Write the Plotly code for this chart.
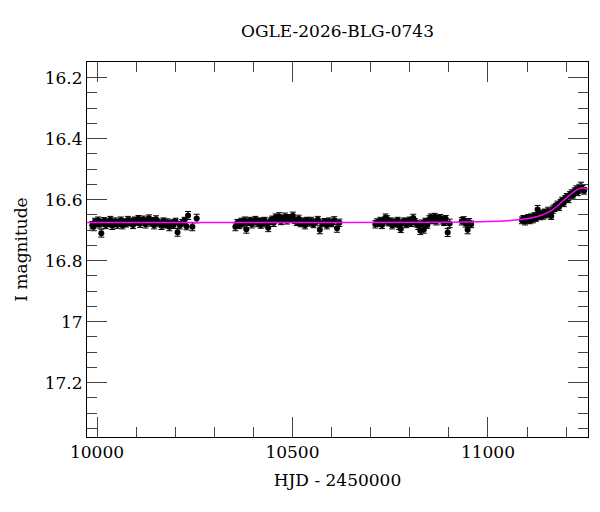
import plotly.graph_objects as go

# photometry, season 1
hjd1 = [9988, 9991, 9995, 9999, 10003, 10006, 10011, 10014, 10018, 10022,
        10026, 10030, 10034, 10039, 10043, 10047, 10052, 10056, 10061, 10065,
        10070, 10074, 10079, 10083, 10088, 10092, 10097, 10101, 10106, 10110,
        10115, 10119, 10124, 10128, 10133, 10137, 10142, 10146, 10151, 10155,
        10160, 10165, 10170, 10175, 10180, 10185, 10191, 10196, 10201, 10206,
        10212, 10218, 10224, 10229, 10233, 10244, 10255]
mag1 = [16.684, 16.689, 16.672, 16.678, 16.668, 16.681, 16.71, 16.676, 16.669, 16.683,
        16.674, 16.679, 16.666, 16.686, 16.677, 16.671, 16.682, 16.675, 16.668, 16.684,
        16.673, 16.679, 16.667, 16.676, 16.671, 16.683, 16.668, 16.674, 16.663, 16.679,
        16.67, 16.665, 16.681, 16.672, 16.661, 16.676, 16.669, 16.684, 16.664, 16.673,
        16.678, 16.686, 16.67, 16.682, 16.675, 16.689, 16.677, 16.683, 16.671, 16.707,
        16.684, 16.676, 16.668, 16.687, 16.652, 16.689, 16.662]
err1 = [0.012, 0.013, 0.011, 0.010, 0.011, 0.012, 0.013, 0.011, 0.010, 0.012,
        0.011, 0.010, 0.011, 0.012, 0.010, 0.011, 0.012, 0.010, 0.011, 0.012,
        0.010, 0.011, 0.012, 0.010, 0.011, 0.012, 0.011, 0.010, 0.011, 0.012,
        0.010, 0.011, 0.012, 0.010, 0.011, 0.011, 0.010, 0.012, 0.011, 0.010,
        0.011, 0.012, 0.010, 0.011, 0.012, 0.013, 0.011, 0.012, 0.010, 0.013,
        0.012, 0.011, 0.010, 0.012, 0.013, 0.013, 0.014]

# season 2
hjd2 = [10354, 10359, 10364, 10369, 10373, 10378, 10382, 10387, 10391, 10396,
        10400, 10405, 10410, 10414, 10419, 10424, 10428, 10433, 10438, 10443,
        10448, 10452, 10457, 10462, 10466, 10471, 10476, 10481, 10486, 10491,
        10496, 10501, 10506, 10511, 10516, 10521, 10527, 10532, 10537, 10543,
        10548, 10554, 10559, 10565, 10570, 10576, 10582, 10588, 10594, 10600,
        10607, 10614, 10620]
mag2 = [16.689, 16.676, 16.683, 16.671, 16.679, 16.668, 16.697, 16.674, 16.669, 16.681,
        16.672, 16.666, 16.677, 16.67, 16.683, 16.674, 16.668, 16.679, 16.692, 16.671,
        16.664, 16.676, 16.658, 16.666, 16.655, 16.671, 16.661, 16.656, 16.669, 16.659,
        16.664, 16.653, 16.668, 16.674, 16.663, 16.679, 16.671, 16.684, 16.668, 16.676,
        16.67, 16.681, 16.673, 16.666, 16.699, 16.678, 16.672, 16.684, 16.671, 16.679,
        16.668, 16.694, 16.676]
err2 = [0.013, 0.011, 0.012, 0.010, 0.011, 0.011, 0.013, 0.010, 0.011, 0.012,
        0.010, 0.011, 0.012, 0.010, 0.011, 0.012, 0.010, 0.011, 0.013, 0.011,
        0.010, 0.012, 0.011, 0.010, 0.012, 0.011, 0.010, 0.012, 0.011, 0.010,
        0.011, 0.012, 0.010, 0.011, 0.012, 0.010, 0.011, 0.012, 0.010, 0.011,
        0.012, 0.011, 0.010, 0.011, 0.013, 0.011, 0.010, 0.012, 0.011, 0.010,
        0.012, 0.013, 0.012]

# season 3
hjd3 = [10712, 10716, 10720, 10725, 10729, 10733, 10738, 10742, 10746, 10751,
        10755, 10760, 10764, 10769, 10773, 10777, 10782, 10786, 10791, 10795,
        10800, 10804, 10809, 10813, 10818, 10822, 10827, 10831, 10836, 10840,
        10845, 10850, 10854, 10859, 10864, 10868, 10873, 10878, 10883, 10888,
        10892, 10897, 10902, 10933, 10938, 10943, 10948, 10952, 10957]
mag3 = [16.681, 16.674, 16.678, 16.669, 16.683, 16.672, 16.659, 16.664, 16.676, 16.671,
        16.684, 16.673, 16.679, 16.668, 16.686, 16.696, 16.675, 16.67, 16.681, 16.674,
        16.667, 16.677, 16.66, 16.672, 16.679, 16.686, 16.701, 16.678, 16.698, 16.671,
        16.683, 16.665, 16.658, 16.669, 16.656, 16.671, 16.662, 16.66, 16.668, 16.675,
        16.663, 16.708, 16.678, 16.671, 16.667, 16.678, 16.699, 16.674, 16.681]
err3 = [0.012, 0.011, 0.010, 0.011, 0.012, 0.011, 0.012, 0.011, 0.010, 0.011,
        0.012, 0.010, 0.011, 0.010, 0.012, 0.012, 0.011, 0.010, 0.011, 0.012,
        0.010, 0.011, 0.012, 0.010, 0.011, 0.012, 0.013, 0.011, 0.012, 0.010,
        0.011, 0.012, 0.011, 0.010, 0.011, 0.012, 0.010, 0.011, 0.012, 0.010,
        0.011, 0.013, 0.014, 0.012, 0.011, 0.012, 0.013, 0.012, 0.011]

# season 4 (rising part)
hjd4 = [11087, 11091, 11095, 11099, 11103, 11107, 11111, 11115, 11119, 11123,
        11127, 11130, 11134, 11138, 11142, 11146, 11150, 11154, 11158, 11162,
        11166, 11170, 11174, 11178, 11182, 11186, 11190, 11194, 11198, 11202,
        11206, 11210, 11214, 11218, 11222, 11226, 11230, 11234, 11238, 11242,
        11246]
mag4 = [16.668, 16.662, 16.671, 16.666, 16.659, 16.668, 16.657, 16.664, 16.654, 16.661,
        16.632, 16.649, 16.656, 16.645, 16.652, 16.641, 16.649, 16.637, 16.644, 16.654,
        16.633, 16.628, 16.622, 16.616, 16.624, 16.609, 16.603, 16.611, 16.597, 16.591,
        16.598, 16.584, 16.579, 16.586, 16.572, 16.566, 16.575, 16.561, 16.556, 16.566,
        16.571]
err4 = [0.011, 0.010, 0.012, 0.011, 0.010, 0.011, 0.010, 0.012, 0.011, 0.010,
        0.013, 0.011, 0.010, 0.011, 0.012, 0.010, 0.011, 0.012, 0.010, 0.011,
        0.012, 0.011, 0.010, 0.011, 0.012, 0.010, 0.011, 0.012, 0.010, 0.011,
        0.012, 0.010, 0.011, 0.012, 0.010, 0.011, 0.012, 0.011, 0.013, 0.012,
        0.011]

# model curve
model_hjd = [9974, 10500, 10900, 11000, 11050, 11085, 11110, 11135, 11160,
             11180, 11200, 11218, 11232, 11242, 11256]
model_mag = [16.675, 16.675, 16.674, 16.672, 16.669, 16.665, 16.66, 16.652, 16.638,
             16.618, 16.595, 16.576, 16.565, 16.562, 16.566]

y_ticks = [16.2, 16.4, 16.6, 16.8, 17.0, 17.2]
y_labels = ['16.2', '16.4', '16.6', '16.8', '17', '17.2']
x_ticks = [10000, 10500, 11000]
x_labels = ['10000', '10500', '11000']

hjd = hjd1 + hjd2 + hjd3 + hjd4
mag = mag1 + mag2 + mag3 + mag4
err = err1 + err2 + err3 + err4

font = 'DejaVu Serif'

fig = go.Figure()

fig.add_trace(go.Scatter(x=hjd, y=mag, mode='markers',
                         marker=dict(color='black', size=6),
                         error_y=dict(type='data', array=err, color='black',
                                      thickness=1, width=3),
                         showlegend=False))

fig.add_trace(go.Scatter(x=model_hjd, y=model_mag, mode='lines',
                         line=dict(color='#ff00ff', width=1.5, shape='spline'),
                         showlegend=False))

axis_common = dict(showgrid=False, zeroline=False, showline=True,
                   linecolor='black', linewidth=1, mirror='allticks',
                   ticks='inside', ticklen=20, tickcolor='#444', tickwidth=1,
                   tickfont=dict(family=font, size=17, color='black'))

fig.update_xaxes(range=[9974.4, 11256], tickmode='array', tickvals=x_ticks,
                 ticktext=x_labels,
                 minor=dict(tickmode='linear', tick0=10000, dtick=100,
                            ticks='inside', ticklen=10, tickcolor='#444'),
                 title=dict(text='HJD - 2450000', standoff=12,
                            font=dict(family=font, size=17, color='black')),
                 **axis_common)
fig.update_yaxes(range=[17.378, 16.149], tickmode='array', tickvals=y_ticks,
                 ticktext=y_labels,
                 minor=dict(tickmode='linear', tick0=16.2, dtick=0.05,
                            ticks='inside', ticklen=10, tickcolor='#444'),
                 title=dict(text='I magnitude', standoff=12,
                            font=dict(family=font, size=17, color='black')),
                 **axis_common)

# page body adds an 8px offset, so the figure is a bit smaller than the window
fig.update_layout(width=584, height=496,
                  margin=dict(l=79, r=4, t=54, b=67),
                  paper_bgcolor='white', plot_bgcolor='white',
                  font=dict(family=font, color='black'),
                  title=dict(text='OGLE-2026-BLG-0743', x=0.5, xref='paper',
                             xanchor='center', y=1 - 23 / 496, yanchor='middle',
                             font=dict(family=font, size=17, color='black')))

fig.write_html("out.html")
